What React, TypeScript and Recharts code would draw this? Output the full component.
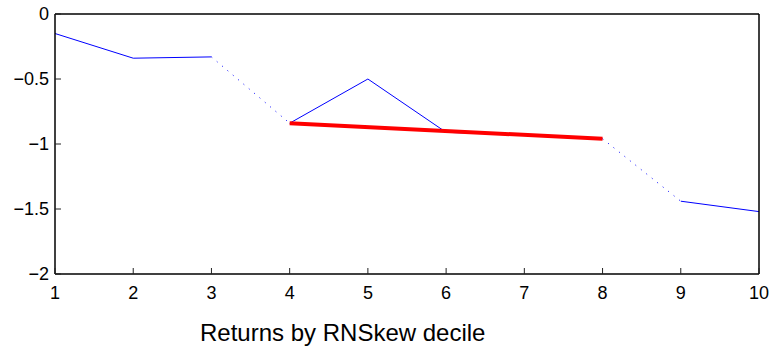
import React from "react";
import { LineChart, Line, XAxis, YAxis } from "recharts";

const deciles = [1, 2, 3, 4, 5, 6, 7, 8, 9, 10];
const returns = [-0.15, -0.34, -0.33, -0.84, -0.5, -0.91, -0.93, -0.96, -1.44, -1.52];
const trendX = [4, 8];
const trendY = [-0.84, -0.96];
const xTicks = [1, 2, 3, 4, 5, 6, 7, 8, 9, 10];
const yTicks = [-2, -1.5, -1, -0.5, 0];
const axisTitle = "Returns by RNSkew decile";

const pts = deciles.map((x, i) => ({ x, y: returns[i] }));
const seg = (a: number, b: number) => pts.slice(a, b + 1);
const solidSegs = [seg(0, 2), seg(3, 7), seg(8, 9)];
const dottedSegs = [seg(2, 3), seg(7, 8)];
const trend = trendX.map((x, i) => ({ x, y: trendY[i] }));

const FONT = "'Liberation Sans', Arial, sans-serif";
const fmt = (v: number) => String(v).replace("-", "\u2212");

const BottomTick = (p: any) => (
  <g>
    <line x1={p.x} x2={p.x} y1={p.y} y2={p.y - 6} stroke="#222" strokeWidth={1} />
    <text x={p.x} y={p.y + 25} textAnchor="middle" fontSize={18} fontFamily={FONT} fill="#000">
      {fmt(p.payload.value)}
    </text>
  </g>
);
const TopTick = (p: any) => (
  <line x1={p.x} x2={p.x} y1={p.y} y2={p.y + 6} stroke="#222" strokeWidth={1} />
);
const LeftTick = (p: any) => (
  <g>
    <line x1={p.x} x2={p.x + 6} y1={p.y} y2={p.y} stroke="#222" strokeWidth={1} />
    <text x={p.x - 6} y={p.y + 6} textAnchor="end" fontSize={18} fontFamily={FONT} fill="#000">
      {fmt(p.payload.value)}
    </text>
  </g>
);
const RightTick = (p: any) => (
  <line x1={p.x} x2={p.x - 6} y1={p.y} y2={p.y} stroke="#666" strokeWidth={1} />
);

export default function App() {
  return (
    <div style={{ position: "absolute", left: 0, top: 0, width: 773, height: 347 }}>
      <LineChart width={773} height={347} margin={{ top: 13, right: 13, left: 0, bottom: 43 }}>
        <XAxis
          dataKey="x"
          type="number"
          domain={[1, 10]}
          ticks={xTicks}
          height={30}
          tickSize={0}
          tickMargin={0}
          tickLine={false}
          tick={<BottomTick />}
          axisLine={{ stroke: "#000", strokeWidth: 1.5 }}
          interval={0}
        />
        <XAxis
          xAxisId="top"
          orientation="top"
          dataKey="x"
          type="number"
          domain={[1, 10]}
          ticks={xTicks}
          height={1}
          tickSize={0}
          tickMargin={0}
          tickLine={false}
          tick={<TopTick />}
          axisLine={{ stroke: "#000", strokeWidth: 1.5 }}
          interval={0}
        />
        <YAxis
          type="number"
          domain={[-2, 0]}
          ticks={yTicks}
          width={55}
          tickSize={0}
          tickMargin={0}
          tickLine={false}
          tick={<LeftTick />}
          axisLine={{ stroke: "#000", strokeWidth: 1.5 }}
          interval={0}
        />
        <YAxis
          yAxisId="right"
          orientation="right"
          type="number"
          domain={[-2, 0]}
          ticks={yTicks}
          width={1}
          tickSize={0}
          tickMargin={0}
          tickLine={false}
          tick={<RightTick />}
          axisLine={{ stroke: "#000", strokeWidth: 1.5 }}
          interval={0}
        />
        {solidSegs.map((d, i) => (
          <Line
            key={"s" + i}
            data={d}
            dataKey="y"
            stroke="#0000ff"
            strokeWidth={1}
            dot={false}
            activeDot={false}
            isAnimationActive={false}
          />
        ))}
        {dottedSegs.map((d, i) => (
          <Line
            key={"d" + i}
            data={d}
            dataKey="y"
            stroke="#0000ff"
            strokeWidth={1}
            strokeDasharray="1 6"
            dot={false}
            activeDot={false}
            isAnimationActive={false}
          />
        ))}
        <Line
          data={trend}
          dataKey="y"
          stroke="#ff0000"
          strokeWidth={4}
          dot={false}
          activeDot={false}
          isAnimationActive={false}
        />
      </LineChart>
      <div
        style={{
          position: "absolute",
          left: 200,
          top: 319,
          fontFamily: FONT,
          fontSize: 24,
          lineHeight: "28px",
          color: "#000",
          whiteSpace: "nowrap",
        }}
      >
        {axisTitle}
      </div>
    </div>
  );
}
